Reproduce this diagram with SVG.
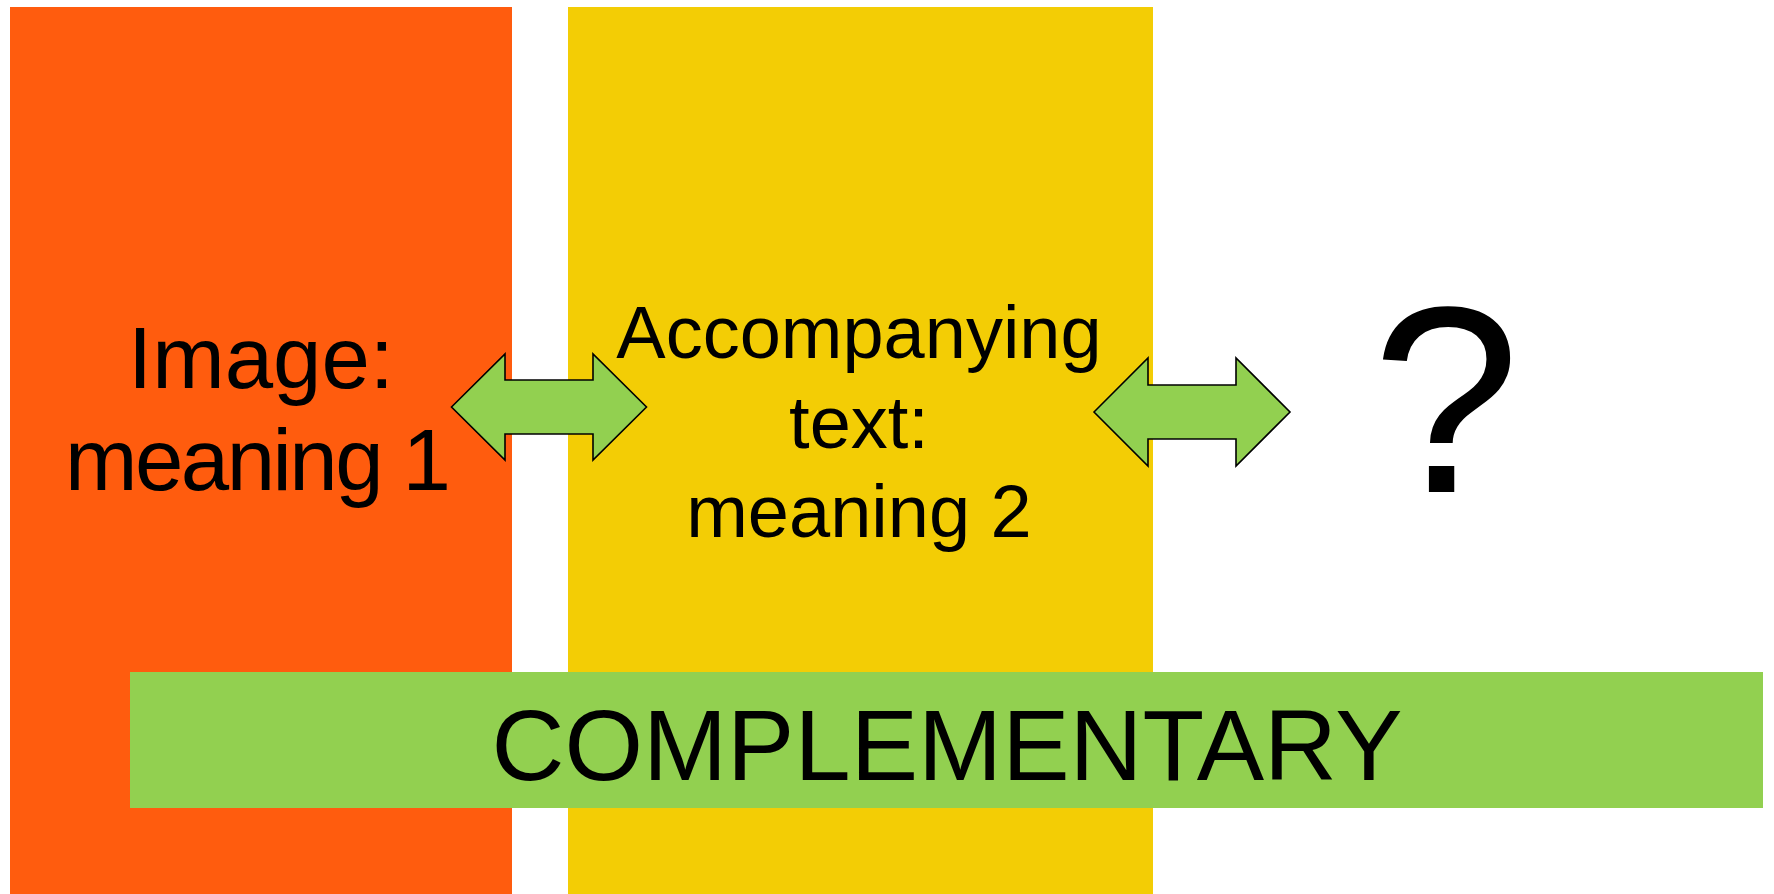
<svg xmlns="http://www.w3.org/2000/svg" width="1774" height="894" viewBox="0 0 1774 894">
<style>
text{font-family:"Liberation Sans",Arial,sans-serif;fill:#000;text-anchor:middle}
.arrow{fill:#92D050;stroke:#000;stroke-width:1.6;stroke-linejoin:miter}
</style>
<rect width="1774" height="894" fill="#fff"/>
<g id="image-node">
<rect x="10" y="7" width="502" height="887" fill="#FF5C0E"/>
<text font-size="87"><tspan x="261" y="388">Image:</tspan><tspan x="258" y="490" textLength="386" lengthAdjust="spacing">meaning 1</tspan></text>
</g>
<g id="text-node">
<rect x="568" y="7" width="585" height="887" fill="#F3CD05"/>
<text font-size="74"><tspan x="859" y="358">Accompanying</tspan><tspan x="859" y="448">text:</tspan><tspan x="859" y="537">meaning 2</tspan></text>
</g>
<g id="question-node">
<text x="1446" y="492" font-size="266">?</text>
</g>
<g id="connectors">
<polygon class="arrow" points="451.5,407 505,354 505,380 593,380 593,354 646.5,407 593,460 593,434 505,434 505,460"/>
<polygon class="arrow" points="1094,412 1148,358 1148,385 1236,385 1236,358 1290,412 1236,466 1236,439 1148,439 1148,466"/>
</g>
<g id="complementary-node">
<rect x="130" y="672" width="1633" height="136" fill="#92D050"/>
<text x="947" y="780" font-size="101">COMPLEMENTARY</text>
</g>
</svg>
